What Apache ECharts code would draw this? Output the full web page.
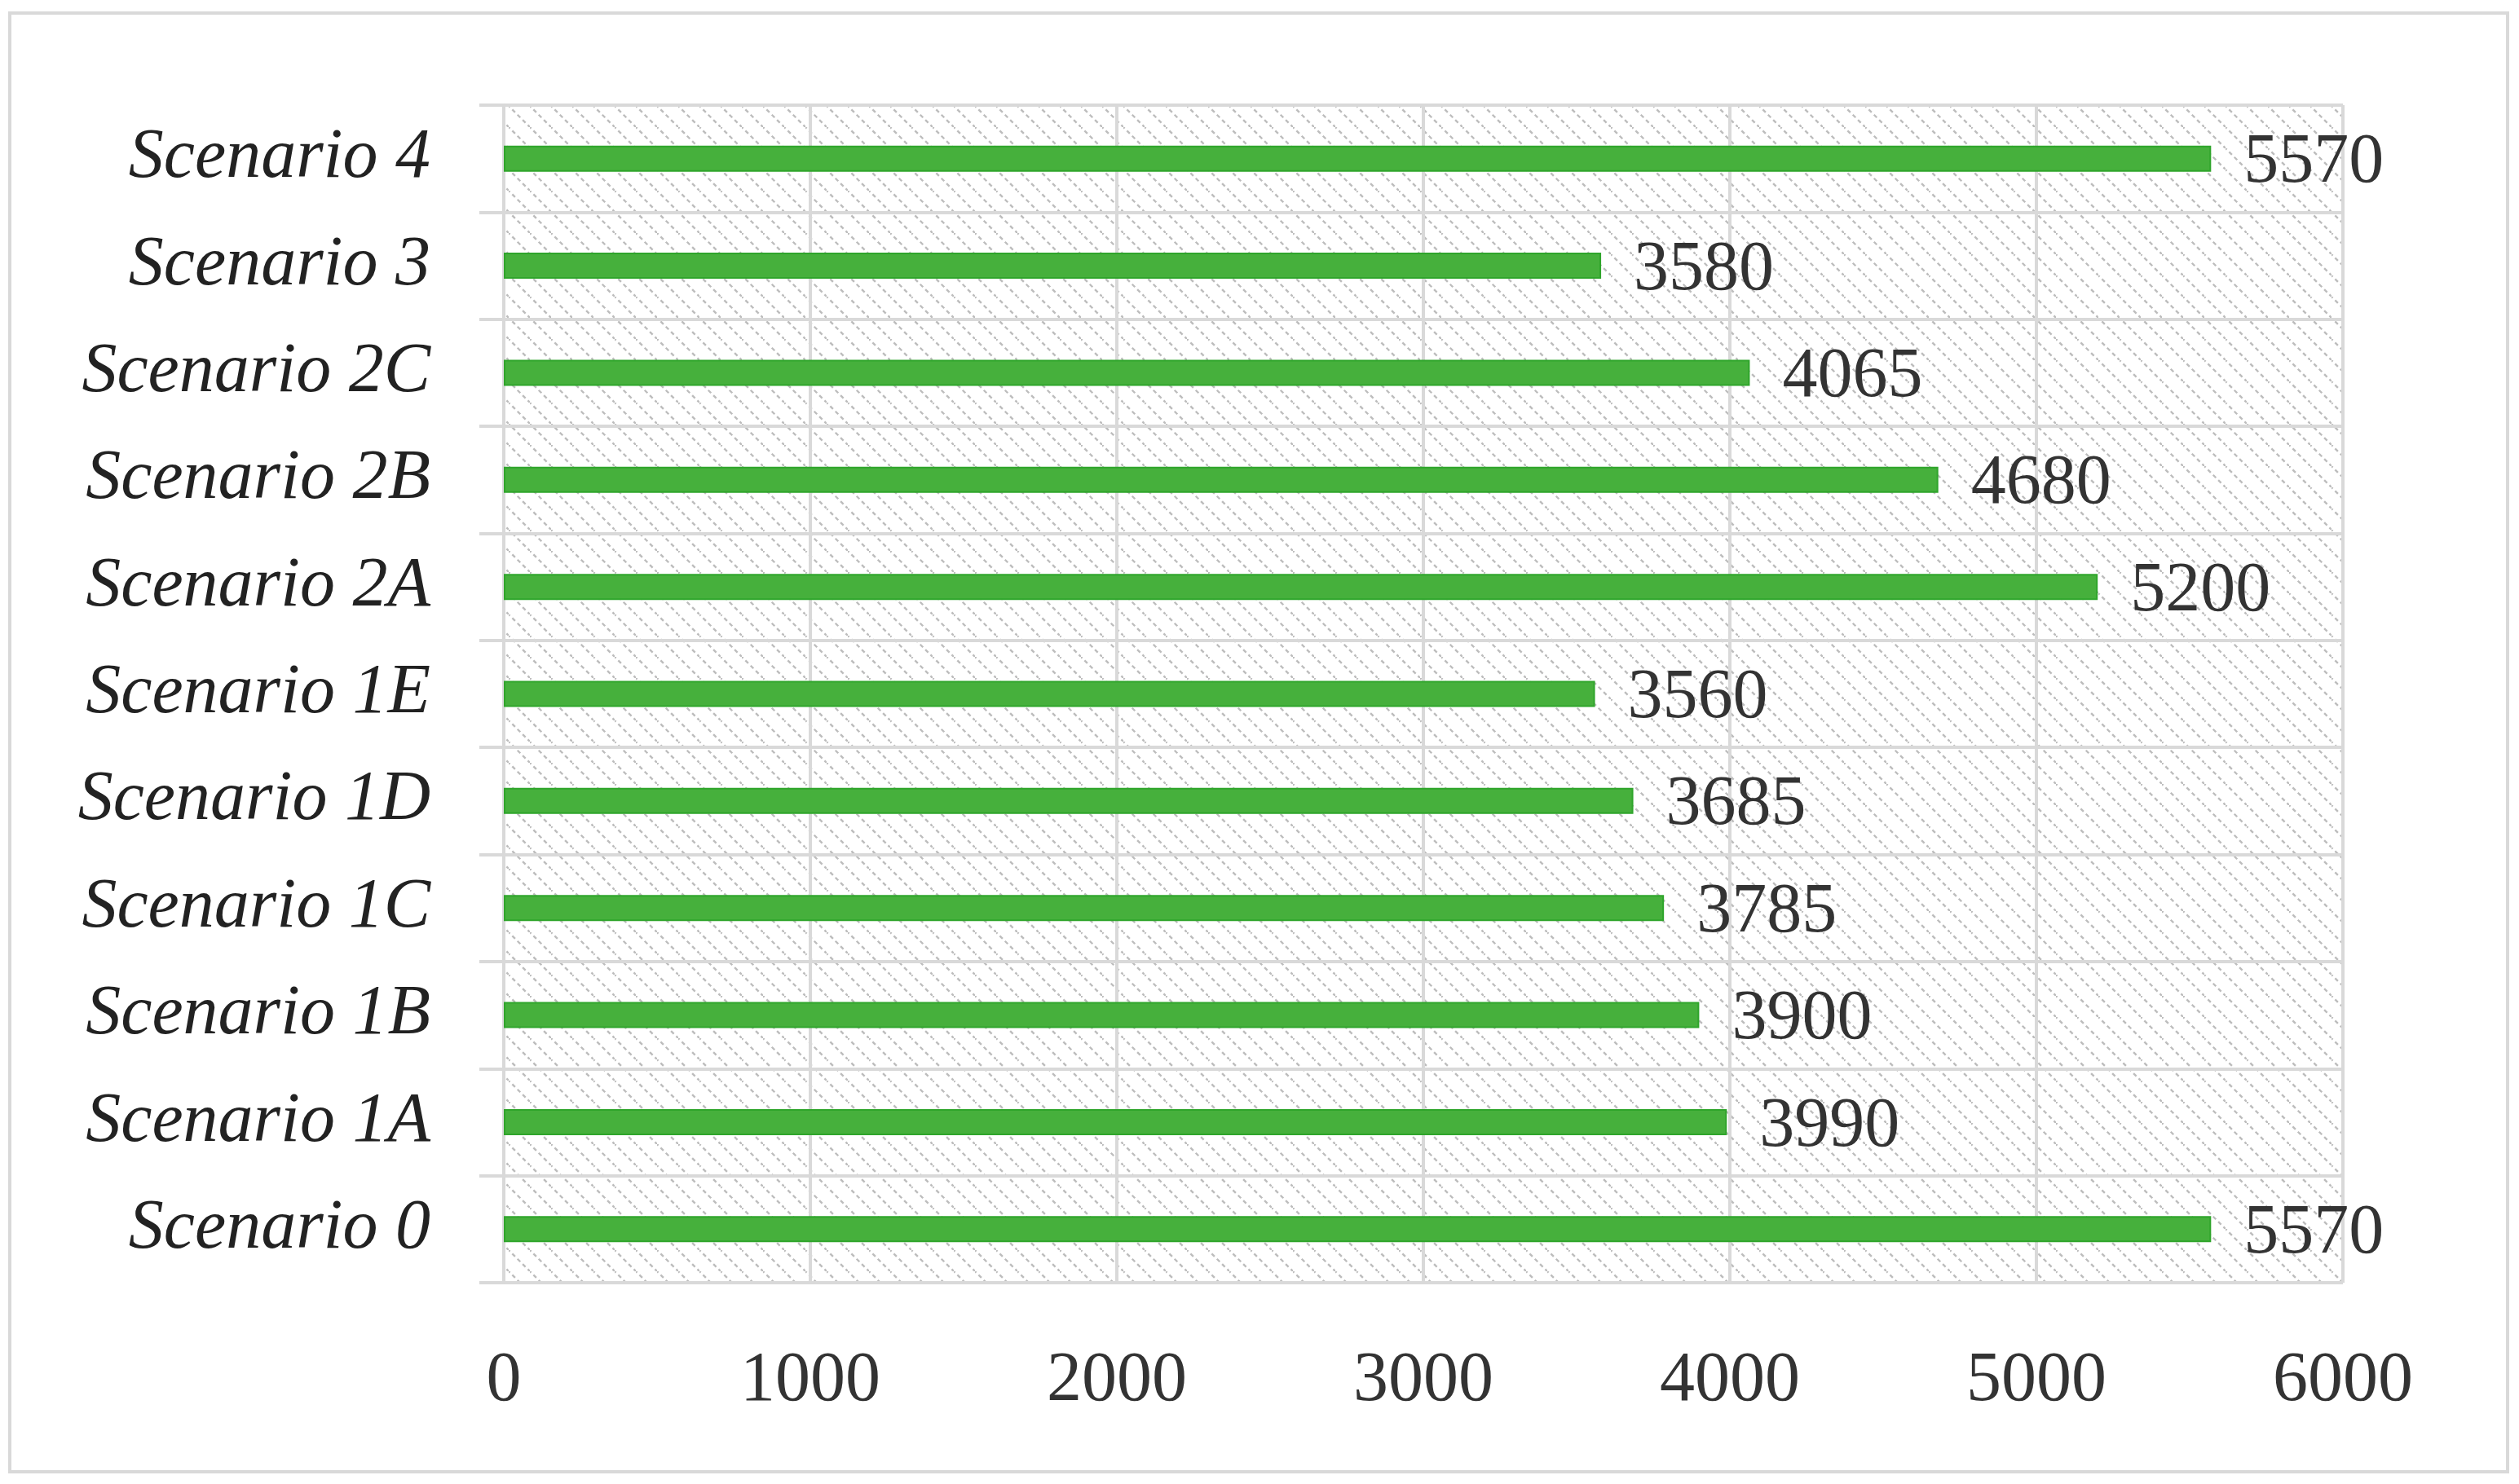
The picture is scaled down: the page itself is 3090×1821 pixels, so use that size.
<!DOCTYPE html>
<html><head><meta charset="utf-8">
<script src="https://cdn.jsdelivr.net/npm/echarts@6/dist/echarts.min.js"></script>
<style>html,body{margin:0;background:#fff}#c{width:3090px;height:1821px}</style>
</head><body><div id="c"></div>
<script>
// bottom-to-top category order
const scenarios = ['Scenario 0', 'Scenario 1A', 'Scenario 1B', 'Scenario 1C', 'Scenario 1D',
  'Scenario 1E', 'Scenario 2A', 'Scenario 2B', 'Scenario 2C', 'Scenario 3', 'Scenario 4'];
const values = [5570, 3990, 3900, 3785, 3685, 3560, 5200, 4680, 4065, 3580, 5570];
const xTicks = [0, 1000, 2000, 3000, 4000, 5000, 6000];

// light diagonal hatch for the plot area
function hatch() {
  const c = document.createElement('canvas');
  c.width = 26; c.height = 26;
  const g = c.getContext('2d');
  g.fillStyle = '#fff'; g.fillRect(0, 0, 26, 26);
  g.strokeStyle = '#bdbdbd'; g.lineWidth = 2.4;
  g.setLineDash([5, 4]);
  g.beginPath(); g.moveTo(-2, -2); g.lineTo(28, 28); g.stroke();
  return c;
}

const font = '"Liberation Serif", serif';
const chart = echarts.init(document.getElementById('c'), null, { renderer: 'canvas' });
chart.setOption({
  backgroundColor: '#fff',
  animation: false,
  graphic: [{ type: 'rect', shape: { x: 12, y: 16, width: 3064, height: 1790 },
    style: { fill: 'none', stroke: '#d9d9d9', lineWidth: 4 } }],
  grid: { left: 618, right: 216, top: 129, bottom: 247, show: true,
    backgroundColor: { image: hatch(), repeat: 'repeat' }, borderWidth: 0 },
  xAxis: {
    type: 'value', min: 0, max: 6000, interval: 1000,
    axisLine: { show: false }, axisTick: { show: false },
    splitLine: { lineStyle: { color: '#d9d9d9', width: 4 } },
    axisLabel: { fontFamily: font, fontSize: 86, color: '#333', margin: 78,
      formatter: v => xTicks.includes(v) ? String(v) : '' }
  },
  yAxis: {
    type: 'category', data: scenarios,
    axisLine: { show: true, lineStyle: { color: '#d9d9d9', width: 4 } },
    axisTick: { show: true, length: 30, lineStyle: { color: '#d9d9d9', width: 4 } },
    splitLine: { show: true, lineStyle: { color: '#d9d9d9', width: 4 } },
    axisLabel: { fontFamily: font, fontStyle: 'italic', fontSize: 86, color: '#222', margin: 90 }
  },
  series: [{
    type: 'bar', data: values, barWidth: 32,
    itemStyle: { color: '#46b03c', borderColor: '#2fa52b', borderWidth: 2 },
    label: { show: true, position: 'right', distance: 40, offset: [0, 6],
      fontFamily: font, fontSize: 86, color: '#333' }
  }]
});
</script></body></html>
